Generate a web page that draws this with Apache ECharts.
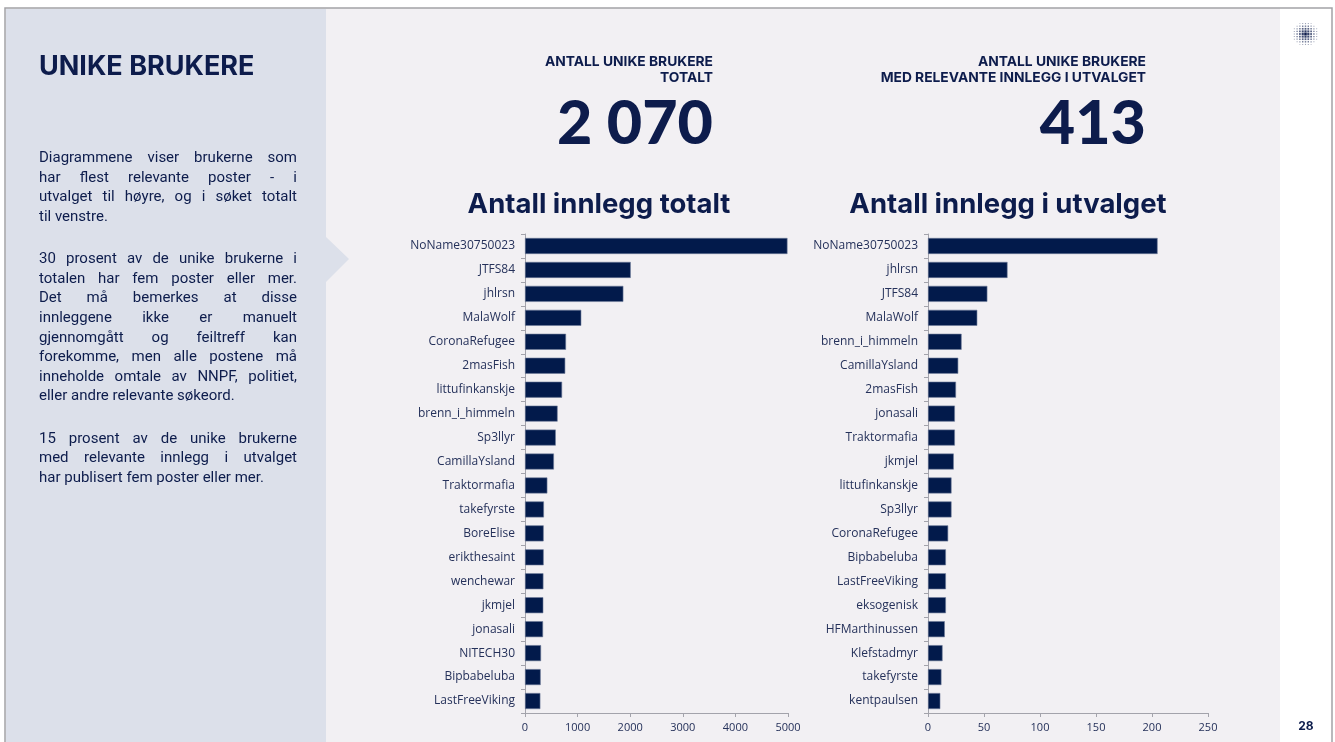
<!DOCTYPE html>
<html>
<head>
<meta charset="utf-8">
<title>Unike brukere</title>
<script src="https://cdn.jsdelivr.net/npm/echarts@6/dist/echarts.min.js"></script>
<style>
  html, body { margin: 0; padding: 0; background: #ffffff; }
  #chart { width: 1335px; height: 742px; }
</style>
</head>
<body>
<div id="chart"></div>
<script>
// Users with most posts in the whole search
const totalUsers = ['NoName30750023', 'JTFS84', 'jhlrsn', 'MalaWolf', 'CoronaRefugee', '2masFish',
  'littufinkanskje', 'brenn_i_himmeln', 'Sp3llyr', 'CamillaYsland', 'Traktormafia', 'takefyrste',
  'BoreElise', 'erikthesaint', 'wenchewar', 'jkmjel', 'jonasali', 'NITECH30', 'Bipbabeluba', 'LastFreeViking'];
const totalPosts = [4990, 2010, 1870, 1070, 780, 765, 705, 620, 585, 550, 425, 360, 355, 355, 350, 348, 343, 305, 298, 292];

// Users with most posts in the relevant selection
const selUsers = ['NoName30750023', 'jhlrsn', 'JTFS84', 'MalaWolf', 'brenn_i_himmeln', 'CamillaYsland',
  '2masFish', 'jonasali', 'Traktormafia', 'jkmjel', 'littufinkanskje', 'Sp3llyr', 'CoronaRefugee',
  'Bipbabeluba', 'LastFreeViking', 'eksogenisk', 'HFMarthinussen', 'Klefstadmyr', 'takefyrste', 'kentpaulsen'];
const selPosts = [205, 71, 53, 44, 30, 27, 25, 24, 24, 23, 21, 21, 18, 16, 16, 16, 15, 13, 12, 11];

const totalTicks = [0, 1000, 2000, 3000, 4000, 5000];
const selTicks = [0, 50, 100, 150, 200, 250];

const kpiTotal = '2 070';
const kpiSelected = '413';

const bodyParagraphs = [
  ['Diagrammene viser brukerne som', 'har flest relevante poster - i', 'utvalget til høyre, og i søket totalt', 'til venstre.'],
  ['30 prosent av de unike brukerne i', 'totalen har fem poster eller mer.', 'Det må bemerkes at disse',
   'innleggene ikke er manuelt', 'gjennomgått og feiltreff kan', 'forekomme, men alle postene må',
   'inneholde omtale av NNPF, politiet,', 'eller andre relevante søkeord.'],
  ['15 prosent av de unike brukerne', 'med relevante innlegg i utvalget', 'har publisert fem poster eller mer.']
];

const NAVY = '#0d1c4c';
const BAR = '#021a4b';
const AXIS = '#a3a3ab';
const LABEL = '#25315a';
const HEAD_FONT = 'Inter, Lato, "Noto Sans", sans-serif';
const NUM_FONT = 'Lato, Inter, sans-serif';

const chart = echarts.init(document.getElementById('chart'), null, { renderer: 'canvas' });

// ---- page decoration ----
const graphics = [];
graphics.push({ type: 'rect', z: -10, shape: { x: 0, y: 0, width: 1335, height: 742 }, style: { fill: '#ffffff' } });
graphics.push({ type: 'rect', z: -9, shape: { x: 5, y: 8, width: 1275, height: 740 }, style: { fill: '#f2f0f3' } });
graphics.push({ type: 'polygon', z: -8, shape: { points: [[6, 9], [326, 9], [326, 237], [349, 259], [326, 282], [326, 748], [6, 748]] },
  style: { fill: '#dce0ea' } });
graphics.push({ type: 'polyline', z: -7, shape: { points: [[5, 748], [5, 8], [1332, 8], [1332, 748]] },
  style: { stroke: '#a2a2a6', lineWidth: 1.5, fill: null } });

// left panel heading
graphics.push({ type: 'text', x: 39, y: 67, style: { text: 'UNIKE BRUKERE', fill: NAVY, verticalAlign: 'middle',
  font: 'bold 27px ' + HEAD_FONT } });

// justified body text
const BODY_FONT = '15px Roboto';
const measureCtx = document.createElement('canvas').getContext('2d');
measureCtx.font = BODY_FONT;
const textLeft = 39, textWidth = 258, lineGap = 19.6;
let lineY = 151;
bodyParagraphs.forEach((para) => {
  para.forEach((line, li) => {
    const words = line.split(' ');
    const last = li === para.length - 1;
    if (last || words.length < 2) {
      graphics.push({ type: 'text', x: textLeft, y: lineY, style: { text: line, font: BODY_FONT, fill: NAVY } });
    } else {
      const widths = words.map(w => measureCtx.measureText(w).width);
      const gap = (textWidth - widths.reduce((a, b) => a + b, 0)) / (words.length - 1);
      let x = textLeft;
      words.forEach((w, wi) => {
        graphics.push({ type: 'text', x: x, y: lineY, style: { text: w, font: BODY_FONT, fill: NAVY } });
        x += widths[wi] + gap;
      });
    }
    lineY += lineGap;
  });
  lineY += lineGap * 1.15;
});

// KPI blocks
function kpi(rightX, lines, value) {
  lines.forEach((t, i) => {
    graphics.push({ type: 'text', x: rightX, y: 62 + i * 16, style: { text: t, align: 'right', verticalAlign: 'middle',
      font: 'bold 13.8px ' + HEAD_FONT, fill: NAVY } });
  });
  graphics.push({ type: 'text', x: rightX, y: 124, style: { text: value, align: 'right', verticalAlign: 'middle',
    font: '900 61px ' + NUM_FONT, fill: NAVY } });
}
kpi(713, ['ANTALL UNIKE BRUKERE', 'TOTALT'], kpiTotal);
kpi(1146, ['ANTALL UNIKE BRUKERE', 'MED RELEVANTE INNLEGG I UTVALGET'], kpiSelected);

// page number
graphics.push({ type: 'text', x: 1306, y: 726, style: { text: '28', align: 'center', verticalAlign: 'middle',
  font: 'bold 12px ' + HEAD_FONT, fill: NAVY } });

// halftone logo mark
for (let i = -4; i <= 4; i++) {
  for (let j = -4; j <= 4; j++) {
    const d = Math.sqrt(i * i + j * j);
    if (d > 4.7) continue;
    const s = Math.max(0.9, 2.6 - d * 0.38);
    graphics.push({ type: 'rect', shape: { x: 1305.5 + i * 2.8 - s / 2, y: 34 + j * 2.6 - s / 2, width: s, height: s },
      style: { fill: NAVY, opacity: Math.max(0.4, 1 - d / 7) } });
  }
}

// ---- charts ----
const axisFont = '"Open Sans", "Noto Sans", sans-serif';
function catAxis(gridIndex, names) {
  return {
    type: 'category', gridIndex: gridIndex, data: names, inverse: true,
    axisLine: { show: true, lineStyle: { color: AXIS, width: 1 } },
    axisTick: { show: true, length: 4, lineStyle: { color: AXIS } },
    axisLabel: { color: LABEL, fontSize: 12, margin: 10, fontFamily: axisFont }
  };
}
function valAxis(gridIndex, ticks) {
  return {
    type: 'value', gridIndex: gridIndex, min: ticks[0], max: ticks[ticks.length - 1],
    interval: ticks[1] - ticks[0],
    splitLine: { show: false },
    axisLine: { show: true, lineStyle: { color: AXIS, width: 1 } },
    axisTick: { show: true, length: 4, lineStyle: { color: AXIS } },
    axisLabel: { color: LABEL, fontSize: 11, margin: 9, fontFamily: axisFont, formatter: v => String(v) }
  };
}
function bars(axisIndex, values) {
  return {
    type: 'bar', xAxisIndex: axisIndex, yAxisIndex: axisIndex, data: values, barWidth: 16,
    itemStyle: { color: BAR, borderColor: '#6d7a99', borderWidth: 0.6 },
    silent: true
  };
}

chart.setOption({
  animation: false,
  backgroundColor: 'transparent',
  title: [
    { text: 'Antall innlegg totalt', left: 594, top: 186, textAlign: 'center',
      textStyle: { color: NAVY, fontSize: 27.5, fontWeight: 'bold', fontFamily: HEAD_FONT } },
    { text: 'Antall innlegg i utvalget', left: 1003, top: 186, textAlign: 'center',
      textStyle: { color: NAVY, fontSize: 27.5, fontWeight: 'bold', fontFamily: HEAD_FONT } }
  ],
  grid: [
    { left: 525, right: 1335 - 788, top: 234, bottom: 742 - 713 },
    { left: 928, right: 1335 - 1208, top: 234, bottom: 742 - 713 }
  ],
  xAxis: [valAxis(0, totalTicks), valAxis(1, selTicks)],
  yAxis: [catAxis(0, totalUsers), catAxis(1, selUsers)],
  series: [bars(0, totalPosts), bars(1, selPosts)],
  graphic: { elements: graphics }
});
</script>
</body>
</html>
